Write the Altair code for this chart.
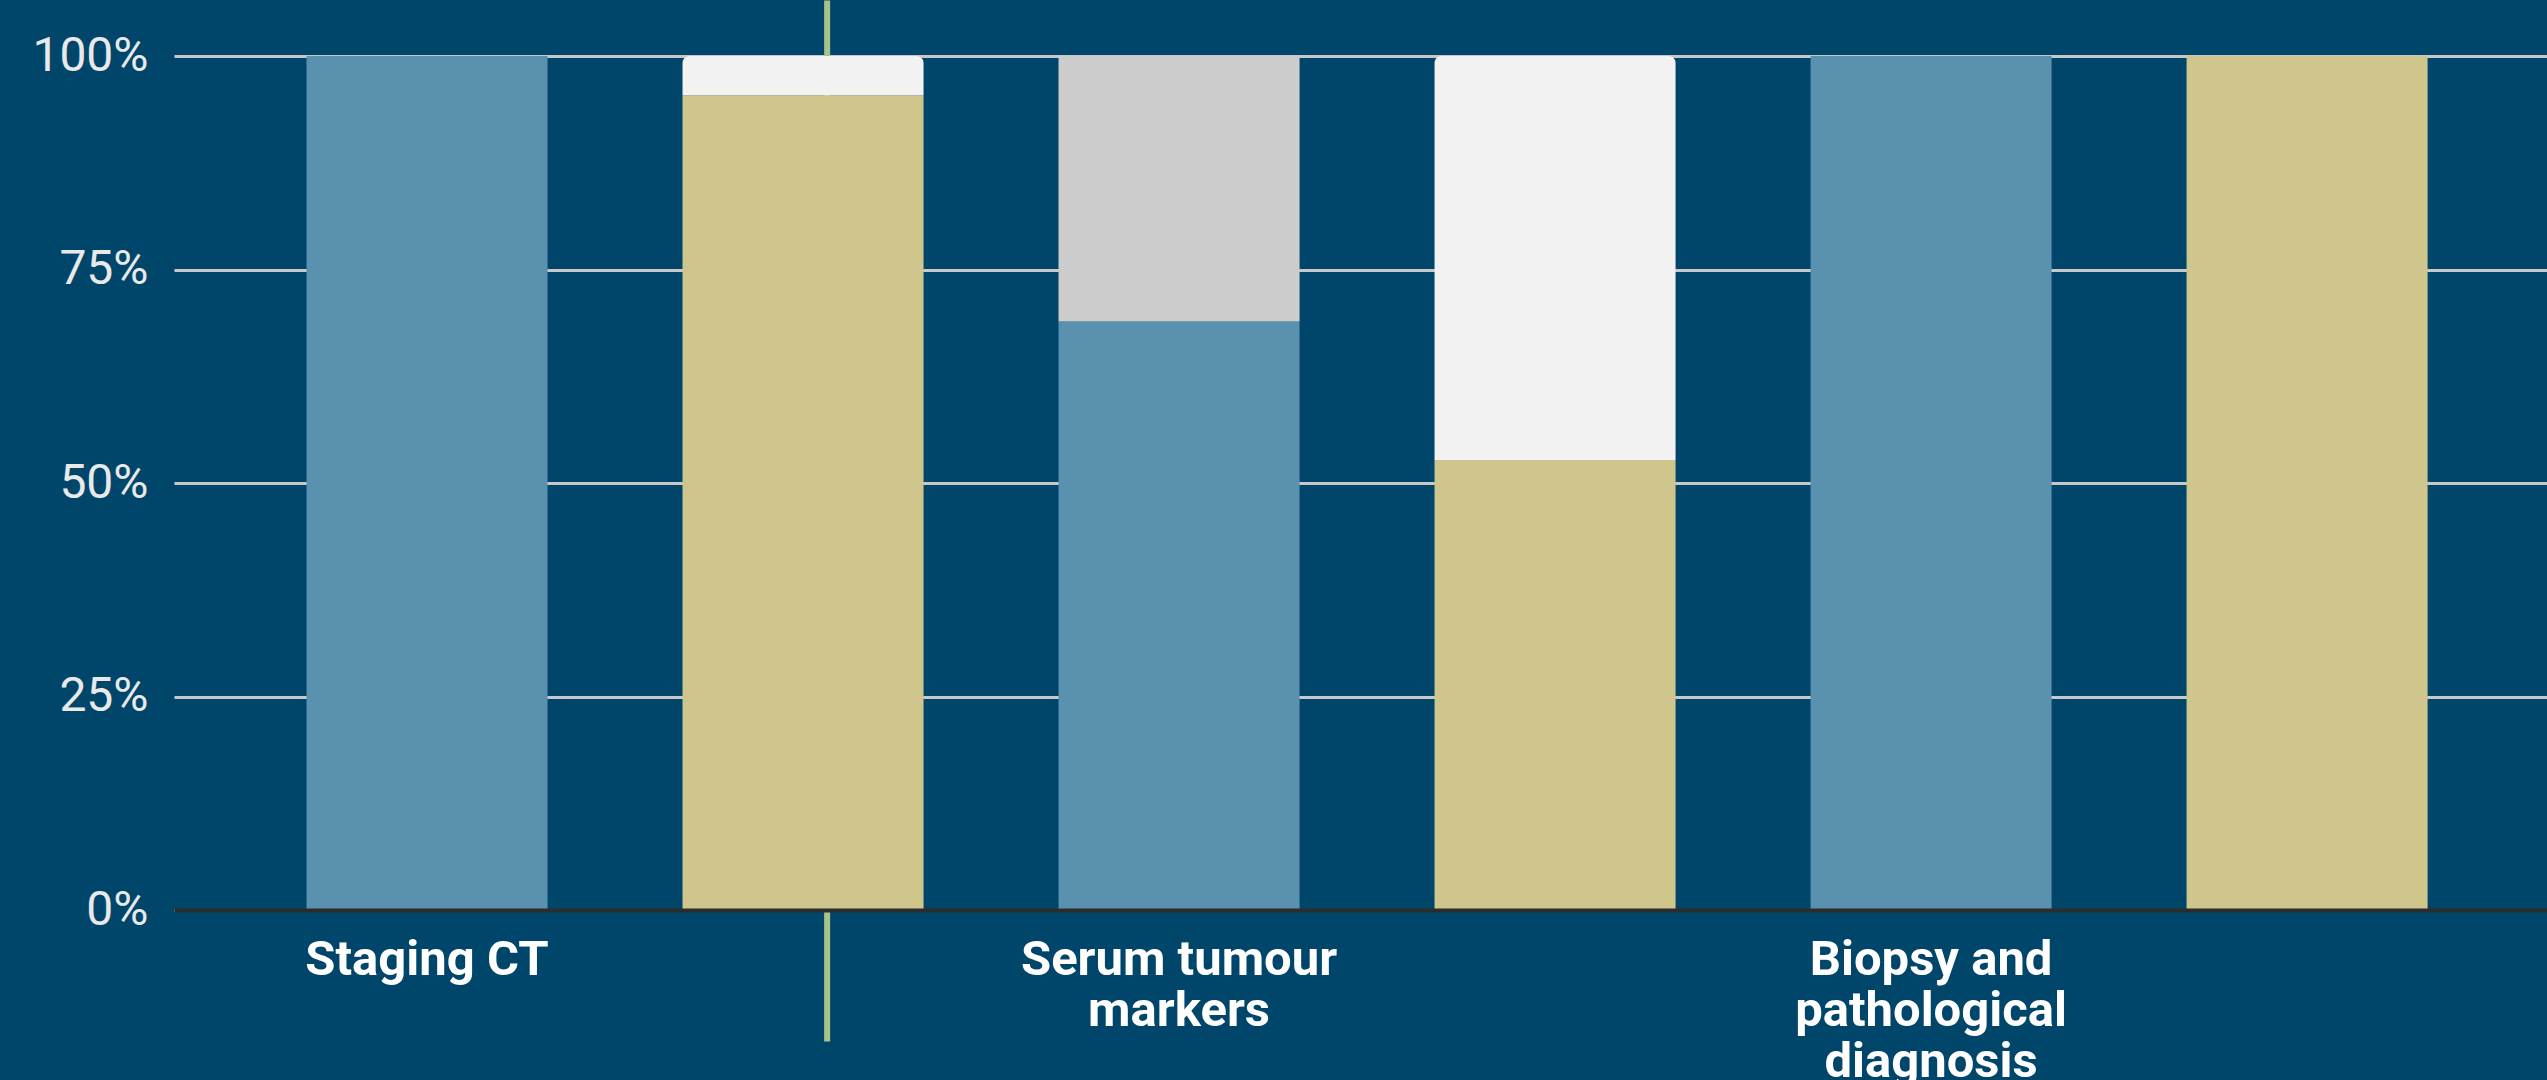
import altair as alt
import pandas as pd

# ---- data ----
categories = ["Staging CT", "Serum tumour\nmarkers", "Biopsy and\npathological\ndiagnosis"]
series = ["A", "B"]
blue_values = [100, 68.9, 100]      # % (series A)
gold_values = [95.4, 52.7, 100]     # % (series B)

lower_colors = {"A": "#5a91ae", "B": "#cfc68e"}
upper_colors = {"A": "#cccccc", "B": "#f2f2f2"}

# decorative vertical marker line (green) seen in the reference
marker_slot = ["Staging CT|B"]
marker_top = [106.5]
marker_bottom = [-15.4]

slot_order = [c + "|" + s for c in categories for s in series]

rows = []
for i, c in enumerate(categories):
    for s, vals in (("A", blue_values), ("B", gold_values)):
        v = vals[i]
        rows.append({
            "slot": c + "|" + s,
            "series": s,
            "value": v,
            "base": 0,
            "top": 100,
            "rest": 100 - v,
            "lower_color": lower_colors[s],
            "upper_color": upper_colors[s],
        })
df = pd.DataFrame(rows)
marker_df = pd.DataFrame({"slot": marker_slot, "y1": marker_top, "y2": marker_bottom})

x_scale = alt.Scale(domain=slot_order, paddingInner=0.359, paddingOuter=0.335, align=0.526)
x_axis = alt.Axis(
    title=None,
    labelExpr="indexof(datum.label, '|B') >= 0 ? '' : split(replace(datum.label, '|A', ''), '\\n')",
    labelAngle=0, labelAlign="center", labelBaseline="top", labelPadding=25,
    labelFontSize=49, labelFontWeight="bold", labelFont="Roboto", labelColor="#ffffff",
    labelLineHeight=51, labelLimit=0, labelOverlap=False,
    ticks=False, domain=True, domainColor="#2c2c2c", domainWidth=4, grid=False, zindex=1,
)
y_scale = alt.Scale(domain=[0, 100], nice=False)
y_axis = alt.Axis(
    title=None, values=[0, 25, 50, 75, 100], labelExpr="datum.value + '%'",
    grid=True, gridColor="#c8c8c8", gridWidth=3, domain=False, ticks=False,
    labelPadding=26, labelFontSize=48, labelFont="Roboto", labelColor="#e9e9e9",
)

marker = alt.Chart(marker_df).mark_rule(color="#a9c287", strokeWidth=6, clip=False).encode(
    x=alt.X("slot:N", scale=x_scale, axis=x_axis, bandPosition=0.6),
    y=alt.Y("y1:Q", scale=y_scale, axis=y_axis),
    y2="y2:Q",
)

lower = alt.Chart(df).mark_bar().encode(
    x=alt.X("slot:N", scale=x_scale, axis=x_axis),
    y=alt.Y("value:Q", scale=y_scale, axis=y_axis),
    y2="base:Q",
    color=alt.Color("lower_color:N", scale=None),
)

upper_gray = alt.Chart(df).transform_filter(
    (alt.datum.rest > 0) & (alt.datum.series == "A")
).mark_bar().encode(
    x=alt.X("slot:N", scale=x_scale, axis=x_axis),
    y=alt.Y("top:Q", scale=y_scale, axis=y_axis),
    y2="value:Q",
    color=alt.Color("upper_color:N", scale=None),
)

upper_white = alt.Chart(df).transform_filter(
    (alt.datum.rest > 0) & (alt.datum.series == "B")
).mark_bar(cornerRadiusTopLeft=7, cornerRadiusTopRight=7).encode(
    x=alt.X("slot:N", scale=x_scale, axis=x_axis),
    y=alt.Y("top:Q", scale=y_scale, axis=y_axis),
    y2="value:Q",
    color=alt.Color("upper_color:N", scale=None),
)

chart = alt.layer(marker, lower, upper_gray, upper_white).properties(
    width=2373,
    height=854,
    background="#00466b",
    padding={"left": 174, "top": 56, "right": 0, "bottom": 170},
    autosize=alt.AutoSizeParams(type="none"),
).configure_view(stroke=None)

chart.save("out.html", embed_options={"renderer": "svg", "actions": False})
